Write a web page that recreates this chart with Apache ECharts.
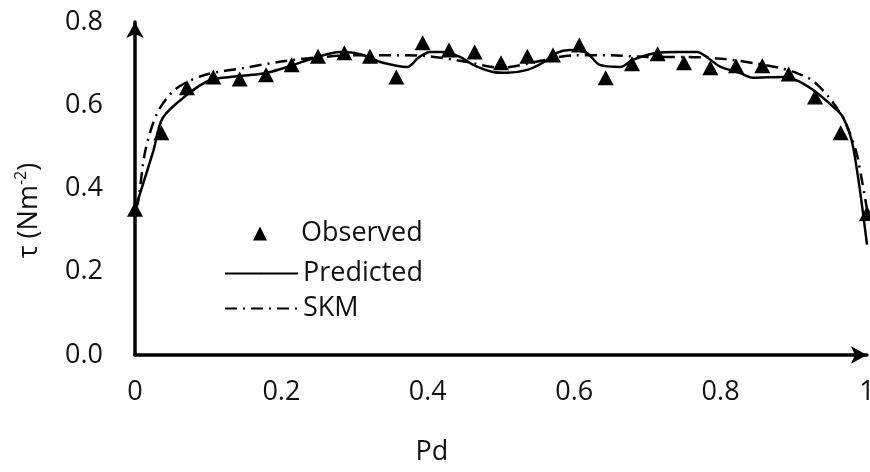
<!DOCTYPE html>
<html>
<head>
<meta charset="utf-8">
<script src="https://cdn.jsdelivr.net/npm/echarts@6/dist/echarts.min.js"></script>
<style>
  html, body { margin: 0; padding: 0; background: #fff; }
  #chart { width: 870px; height: 472px; }
</style>
</head>
<body>
<div id="chart"></div>
<script>
// observed points
const obsX = [0, 0.036, 0.071, 0.107, 0.143, 0.179, 0.214, 0.25, 0.286, 0.321, 0.357, 0.393, 0.429, 0.464, 0.5,
  0.536, 0.571, 0.607, 0.643, 0.679, 0.714, 0.75, 0.786, 0.821, 0.857, 0.893, 0.929, 0.964, 1.0];
const obsY = [0.35, 0.534, 0.642, 0.668, 0.663, 0.673, 0.697, 0.718, 0.726, 0.718, 0.668, 0.75, 0.733, 0.728, 0.702,
  0.718, 0.721, 0.745, 0.666, 0.700, 0.724, 0.702, 0.690, 0.695, 0.695, 0.675, 0.620, 0.534, 0.34];

// predicted (solid)
const predX = [0, 0.025, 0.038, 0.071, 0.102, 0.13, 0.16, 0.18, 0.208, 0.249, 0.28, 0.298, 0.32, 0.335, 0.372,
  0.387, 0.403, 0.42, 0.444, 0.462, 0.489, 0.508, 0.536, 0.557, 0.576, 0.594, 0.617, 0.635, 0.663, 0.68,
  0.713, 0.74, 0.768, 0.781, 0.8, 0.826, 0.844, 0.885, 0.904, 0.926, 0.954, 0.967, 0.981, 1.0];
const predY = [0.35, 0.49, 0.57, 0.625, 0.66, 0.668, 0.673, 0.678, 0.692, 0.716, 0.728, 0.726, 0.716, 0.704, 0.692,
  0.714, 0.728, 0.728, 0.716, 0.697, 0.68, 0.678, 0.685, 0.702, 0.726, 0.733, 0.726, 0.697, 0.692, 0.709,
  0.726, 0.728, 0.728, 0.716, 0.692, 0.678, 0.666, 0.668, 0.66, 0.637, 0.596, 0.572, 0.5, 0.265];

// SKM (dash-dot)
const skmX = [0, 0.004, 0.014, 0.03, 0.05, 0.07, 0.1, 0.15, 0.2, 0.25, 0.3, 0.35, 0.4, 0.45, 0.5,
  0.55, 0.6, 0.65, 0.7, 0.75, 0.8, 0.85, 0.88, 0.9, 0.925, 0.95, 0.97, 0.985, 0.993, 1.0];
const skmY = [0.35, 0.365, 0.49, 0.58, 0.63, 0.655, 0.675, 0.69, 0.705, 0.715, 0.72, 0.72, 0.718, 0.705, 0.69,
  0.705, 0.72, 0.72, 0.716, 0.716, 0.712, 0.70, 0.69, 0.68, 0.66, 0.615, 0.56, 0.49, 0.42, 0.35];

const xTicks = [0, 0.2, 0.4, 0.6, 0.8, 1];
const yTicks = [0, 0.2, 0.4, 0.6, 0.8];

function zip(xs, ys) { return xs.map((x, i) => [x, ys[i]]); }

var myChart = echarts.init(document.getElementById('chart'));
var font = 'Open Sans';
var txt = '#111';
var fs = 27;

var option = {
  animation: false,
  textStyle: { fontFamily: font },
  grid: { left: 135, right: 3, top: 22, bottom: 117, containLabel: false, outerBoundsMode: 'none' },
  legend: [
    {
      data: [{ name: 'Observed', icon: 'triangle' }],
      left: 248, top: 215,
      itemWidth: 14, itemHeight: 14,
      itemStyle: { color: '#000', opacity: 1 },
      textStyle: { fontFamily: font, fontSize: fs, color: txt, padding: [0, 0, 0, 29] }
    },
    {
      data: ['Predicted'],
      left: 219, top: 255,
      itemWidth: 73, itemHeight: 2,
      textStyle: { fontFamily: font, fontSize: fs, color: txt }
    },
    {
      data: ['SKM'],
      left: 219, top: 290,
      itemWidth: 73, itemHeight: 2,
      textStyle: { fontFamily: font, fontSize: fs, color: txt }
    }
  ],
  xAxis: {
    type: 'value', min: 0, max: 1, interval: 0.2,
    name: 'Pd', nameLocation: 'middle', nameGap: 84,
    nameTextStyle: { fontFamily: font, fontSize: fs, color: txt, padding: [0, 138, 0, 0] },
    axisLine: { show: true, symbol: ['none', 'arrow'], symbolSize: [13, 16], lineStyle: { color: '#000', width: 3.5 } },
    axisTick: { show: false },
    splitLine: { show: false },
    axisLabel: {
      margin: 24, fontFamily: font, fontSize: fs, color: txt,
      formatter: v => xTicks.indexOf(v) >= 0 ? String(v) : ''
    }
  },
  yAxis: {
    type: 'value', min: 0, max: 0.8, interval: 0.2,
    name: '{a|τ (Nm}{s|-2}{a|)}', nameLocation: 'middle', nameGap: 90, nameRotate: 90,
    nameTextStyle: {
      padding: [0, 44, 0, 0],
      rich: {
        a: { fontFamily: font, fontSize: fs, color: txt, lineHeight: 32 },
        s: { fontFamily: font, fontSize: 16, color: txt, verticalAlign: 'top', lineHeight: 32 }
      }
    },
    axisLine: { show: true, symbol: ['none', 'arrow'], symbolSize: [13, 16], lineStyle: { color: '#000', width: 3.5 } },
    axisTick: { show: false },
    splitLine: { show: false },
    axisLabel: {
      margin: 32, fontFamily: font, fontSize: fs, color: txt,
      formatter: v => yTicks.indexOf(v) >= 0 ? v.toFixed(1) : ''
    }
  },
  series: [
    {
      name: 'Predicted', type: 'line', smooth: 0.3, symbol: 'none',
      lineStyle: { color: '#000', width: 2.5 },
      itemStyle: { color: '#000' },
      data: zip(predX, predY), z: 3
    },
    {
      name: 'SKM', type: 'line', smooth: 0.3, symbol: 'none',
      lineStyle: { color: '#000', width: 2.5, type: [12, 6, 2, 6] },
      itemStyle: { color: '#000' },
      data: zip(skmX, skmY), z: 2
    },
    {
      name: 'Observed', type: 'scatter', symbol: 'triangle', symbolSize: [16, 15],
      itemStyle: { color: '#000', opacity: 1 },
      data: zip(obsX, obsY), z: 4
    }
  ]
};

myChart.setOption(option);
window.onresize = function () { myChart.resize(); };
</script>
</body>
</html>
